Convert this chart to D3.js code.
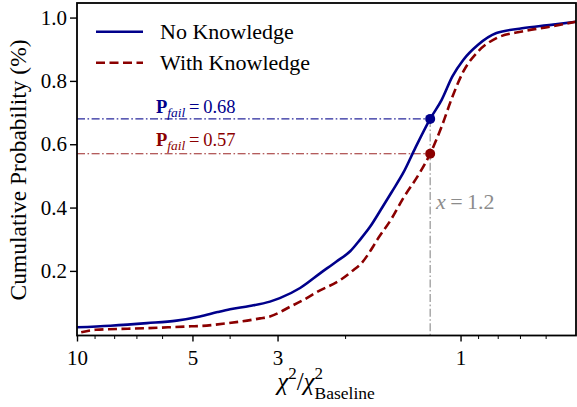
<!DOCTYPE html>
<html><head><meta charset="utf-8">
<script src="https://cdn.jsdelivr.net/npm/d3@7"></script>
<style>body{margin:0;background:#fff}</style>
</head><body>
<svg id="c" width="577" height="407"></svg>
<script>
// ---- data ----
const noKnowX = [10, 8.18, 6.57, 5.5, 4.78, 4.3, 3.99, 3.55, 3.14, 2.96, 2.62, 2.32, 2.11, 1.94, 1.83, 1.72, 1.62, 1.51, 1.41, 1.31, 1.2, 1.12, 1.05, 0.984, 0.9, 0.806, 0.691, 0.58, 0.5];
const noKnowY = [0.022, 0.027, 0.035, 0.043, 0.056, 0.07, 0.079, 0.089, 0.103, 0.114, 0.146, 0.193, 0.229, 0.262, 0.298, 0.34, 0.39, 0.45, 0.51, 0.59, 0.68, 0.740, 0.814, 0.866, 0.914, 0.951, 0.966, 0.977, 0.987];
const withKnowX = [9.75, 8.94, 6.57, 5.04, 4.78, 4.04, 3.33, 3.14, 2.78, 2.57, 2.37, 2.06, 1.9, 1.83, 1.69, 1.65, 1.52, 1.41, 1.28, 1.2, 1.12, 1.05, 0.984, 0.9, 0.806, 0.691, 0.58, 0.5];
const withKnowY = [0.006, 0.014, 0.019, 0.025, 0.026, 0.035, 0.05, 0.056, 0.087, 0.108, 0.133, 0.171, 0.203, 0.219, 0.277, 0.298, 0.361, 0.43, 0.508, 0.57, 0.656, 0.750, 0.829, 0.893, 0.935, 0.956, 0.972, 0.987];
const seriesNames = ["No Knowledge", "With Knowledge"];
const xMajorTicks = [10, 5, 3, 1];
const xMinorTicks = [9, 8, 7, 6, 4, 2, 0.9, 0.8, 0.7, 0.6];
const yTicks = [0.2, 0.4, 0.6, 0.8, 1.0];
const thresholdX = 1.2;
const pFailNo = 0.68;
const pFailWith = 0.57;

// ---- layout ----
const FONT = '"Liberation Serif"';
const svg = d3.select("#c");
const L = 77, R = 576, T = 3, B = 335.5;
const x = d3.scaleLog().domain([10, 0.5]).range([L, R]);
const y = d3.scaleLinear().domain([-0.004, 1.046]).range([B, T]);
const blue = "#00008b", red = "#8b0000";

svg.append("clipPath").attr("id","pc").append("rect")
  .attr("x", L).attr("y", T).attr("width", R-L).attr("height", B-T);

// axes
const xAxis = d3.axisBottom(x).tickValues(xMajorTicks).tickFormat(d3.format("d")).tickSize(6).tickPadding(4);
const gx = svg.append("g").attr("transform", `translate(0,${B})`).call(xAxis);
gx.select(".domain").remove();
gx.selectAll("line").attr("stroke","#000").attr("stroke-width",1.4);
gx.selectAll("text").style("font-family", FONT).style("font-size","21px").attr("fill","#000").attr("dy","0.95em");
const xMinor = d3.axisBottom(x).tickValues(xMinorTicks).tickFormat("").tickSize(3.5);
const gxm = svg.append("g").attr("transform", `translate(0,${B})`).call(xMinor);
gxm.select(".domain").remove();
gxm.selectAll("line").attr("stroke","#000").attr("stroke-width",1);

const yAxis = d3.axisLeft(y).tickValues(yTicks).tickFormat(d3.format(".1f")).tickSize(7).tickPadding(3);
const gy = svg.append("g").attr("transform", `translate(${L},0)`).call(yAxis);
gy.select(".domain").remove();
gy.selectAll("line").attr("stroke","#000").attr("stroke-width",1.4);
gy.selectAll("text").style("font-family", FONT).style("font-size","21px").attr("fill","#000");

// lines
const mk = (xs, ys) => xs.map((v,i)=>[v, ys[i]]);
const line = d3.line().x(d=>x(d[0])).y(d=>y(d[1])).curve(d3.curveMonotoneX);
const plot = svg.append("g").attr("clip-path","url(#pc)");

const dd = "8,2.5,1.6,2.5";
plot.append("line").attr("x1", L).attr("x2", x(thresholdX)).attr("y1", y(pFailNo)).attr("y2", y(pFailNo))
  .attr("stroke", blue).attr("stroke-opacity",0.85).attr("stroke-width",1.2).attr("stroke-dasharray",dd);
plot.append("line").attr("x1", L).attr("x2", x(thresholdX)).attr("y1", y(pFailWith)).attr("y2", y(pFailWith))
  .attr("stroke", red).attr("stroke-opacity",0.85).attr("stroke-width",1.2).attr("stroke-dasharray",dd);
plot.append("line").attr("x1", x(thresholdX)).attr("x2", x(thresholdX)).attr("y1", y(pFailNo)).attr("y2", B)
  .attr("stroke", "#808080").attr("stroke-opacity",0.85).attr("stroke-width",1.2).attr("stroke-dasharray",dd);

plot.append("path").datum(mk(noKnowX, noKnowY)).attr("d", line)
  .attr("fill","none").attr("stroke", blue).attr("stroke-width",2.6);
plot.append("path").datum(mk(withKnowX, withKnowY)).attr("d", line)
  .attr("fill","none").attr("stroke", red).attr("stroke-width",2.6).attr("stroke-dasharray","9,4.5");

plot.append("circle").attr("cx", x(thresholdX)).attr("cy", y(pFailNo)).attr("r",5).attr("fill", blue);
plot.append("circle").attr("cx", x(thresholdX)).attr("cy", y(pFailWith)).attr("r",5).attr("fill", red);

// annotation texts
function pfail(val, color, yy){
  const t = svg.append("text").attr("x", 156).attr("y", yy).attr("fill", color)
    .style("font-family", FONT).style("font-size","18.5px");
  t.append("tspan").attr("font-weight","bold").text("P");
  t.append("tspan").attr("font-style","italic").style("font-size","13.5px").attr("dy", 4).text("fail");
  t.append("tspan").attr("dy", -4).text("\u2009=\u20090." + String(Math.round(val*100)));
}
pfail(pFailNo, blue, 113);
pfail(pFailWith, red, 146);

const xt = svg.append("text").attr("x", 436).attr("y", 209).attr("fill","#8c8c8c")
  .style("font-family", FONT).style("font-size","22px");
xt.append("tspan").attr("font-style","italic").text("x");
xt.append("tspan").text("\u2009=\u2009" + thresholdX.toFixed(1));

// frame
svg.append("rect").attr("x", L).attr("y", T).attr("width", R-L).attr("height", B-T)
  .attr("fill","none").attr("stroke","#000").attr("stroke-width",1.8);

// legend
const lg = svg.append("g");
lg.append("line").attr("x1",96).attr("x2",143).attr("y1",31.7).attr("y2",31.7).attr("stroke",blue).attr("stroke-width",2.6);
lg.append("line").attr("x1",96).attr("x2",143).attr("y1",62.7).attr("y2",62.7).attr("stroke",red).attr("stroke-width",2.6).attr("stroke-dasharray","9,4.5");
lg.append("text").attr("x",160).attr("y",38.5).style("font-family", FONT).style("font-size","22px").text(seriesNames[0]);
lg.append("text").attr("x",160).attr("y",69.5).style("font-family", FONT).style("font-size","22px").text(seriesNames[1]);

// axis labels
svg.append("text").attr("transform","translate(26,170) rotate(-90)").attr("text-anchor","middle")
  .style("font-family", FONT).style("font-size","23.5px").text("Cumulative Probability (%)");
const xl = svg.append("text").attr("x", 326).attr("y", 390).attr("text-anchor","middle")
  .style("font-family", FONT).style("font-size","25px");
xl.append("tspan").attr("font-style","italic").text("\u03c7");
xl.append("tspan").style("font-size","17px").attr("dy",-11).text("2");
xl.append("tspan").attr("dy",11).text("/");
xl.append("tspan").attr("font-style","italic").text("\u03c7");
xl.append("tspan").style("font-size","17px").attr("dy",-11).text("2");
xl.append("tspan").style("font-size","17.5px").attr("dx",-8.5).attr("dy",20).text("Baseline");
</script>
</body></html>
